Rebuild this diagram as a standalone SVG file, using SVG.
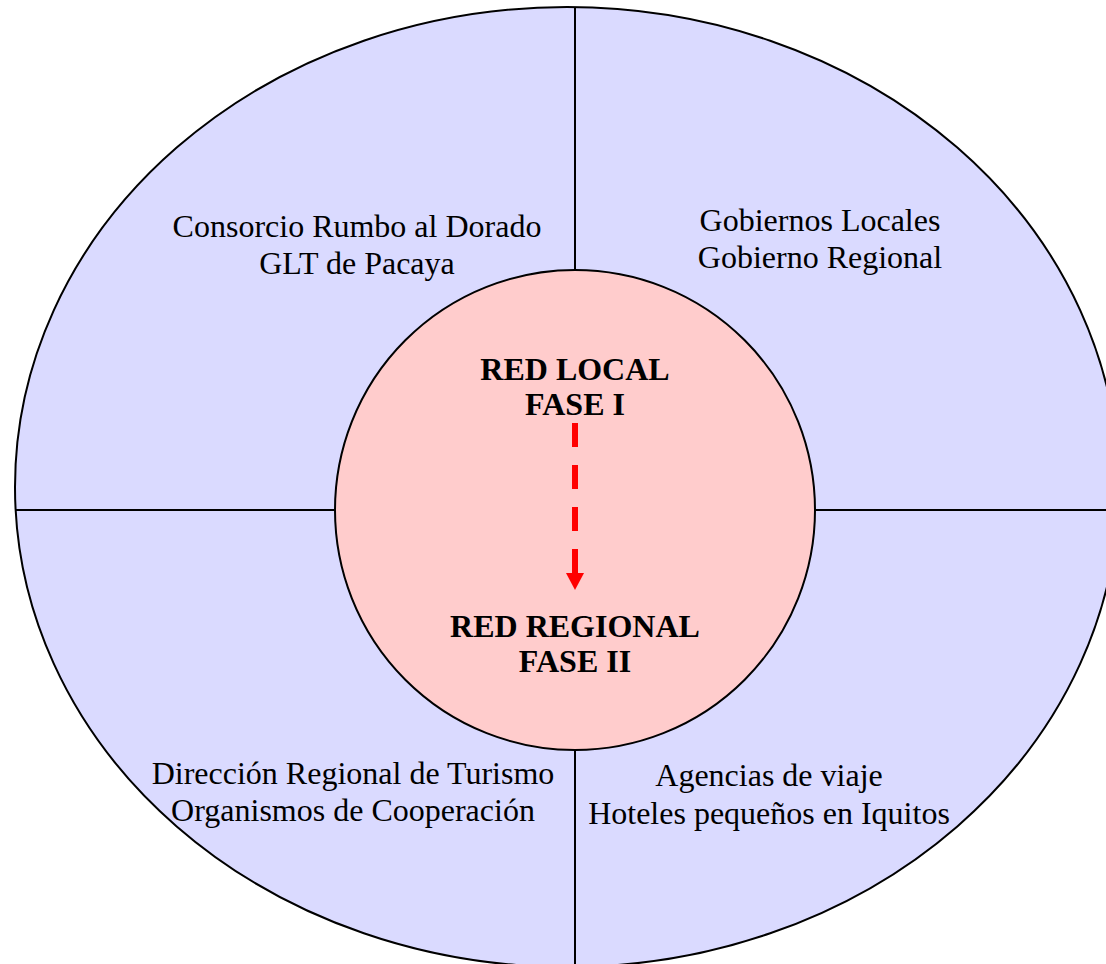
<svg xmlns="http://www.w3.org/2000/svg" width="1106" height="964" viewBox="0 0 1106 964">
<style>
.t{font-family:"Liberation Serif","Times New Roman",serif;font-size:32px;fill:#000;text-anchor:middle}
.b{font-weight:bold}
.ln{stroke:#000;stroke-width:2;fill:none}
</style>
<defs>
<marker id="ah" markerWidth="17" markerHeight="18" refX="0" refY="9" orient="auto" markerUnits="userSpaceOnUse" viewBox="0 0 17 18">
<path d="M0,0 L17,9 L0,18 Z" fill="#FF0000"/>
</marker>
</defs>
<rect width="1106" height="964" fill="#fff"/>
<g id="outer">
<ellipse cx="567" cy="487" rx="552" ry="480" fill="#DADAFF" stroke="#000" stroke-width="2"/>
</g>
<g id="dividers">
<line class="ln" x1="575" y1="7" x2="575" y2="964"/>
<line class="ln" x1="15" y1="510" x2="1106" y2="510"/>
</g>
<g id="center">
<circle cx="575" cy="510" r="240" fill="#FFCCCC" stroke="#000" stroke-width="2"/>
<text class="t b" x="575" y="380">RED LOCAL</text>
<text class="t b" x="575" y="415">FASE I</text>
<text class="t b" x="575" y="637">RED REGIONAL</text>
<text class="t b" x="575" y="672">FASE II</text>
</g>
<g id="connectors">
<line x1="575" y1="423" x2="575" y2="573" stroke="#FF0000" stroke-width="6" stroke-dasharray="24 18" marker-end="url(#ah)"/>
</g>
<g id="q1">
<text class="t" x="357" y="237">Consorcio Rumbo al Dorado</text>
<text class="t" x="357" y="274">GLT de Pacaya</text>
</g>
<g id="q2">
<text class="t" x="820" y="231">Gobiernos Locales</text>
<text class="t" x="820" y="268">Gobierno Regional</text>
</g>
<g id="q3">
<text class="t" x="353" y="784">Dirección Regional de Turismo</text>
<text class="t" x="353" y="821">Organismos de Cooperación</text>
</g>
<g id="q4">
<text class="t" x="769" y="786">Agencias de viaje</text>
<text class="t" x="769" y="824">Hoteles pequeños en Iquitos</text>
</g>
</svg>
